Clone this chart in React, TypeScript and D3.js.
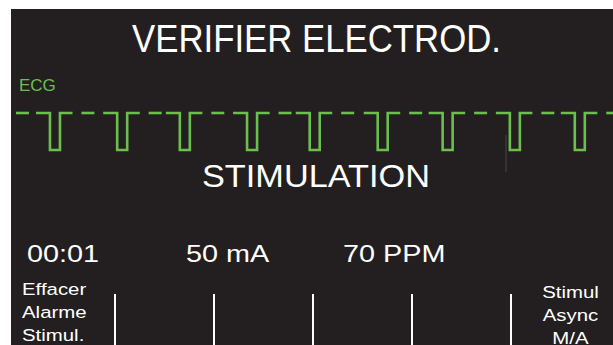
import React from "react";
import * as d3 from "d3";

// Textes affichés à l'écran
const headerMessage = "VERIFIER ELECTROD.";
const modeLabel = "STIMULATION";
const leadLabel = "ECG";
const readouts = ["00:01", "50 mA", "70 PPM"];
const softKeys = [
  ["Effacer", "Alarme", "Stimul."],
  [],
  [],
  [],
  [],
  ["Stimul", "Async", "M/A"],
];

// Instants des impulsions de stimulation (s)
const pulseTimes = [0, 0.88, 1.7, 2.58, 3.4, 4.29, 5.14, 6.02, 6.87];

const W = 613;
const H = 345;
const GREEN = "#6cbf4f";
const BG = "#231f20";
const FONT = "'Liberation Sans', Arial, sans-serif";

const App: React.FC = () => {
  // échelle temps -> pixels (76 px/s environ)
  const x = d3.scaleLinear().domain([-0.51, 7.37]).range([11, W]);
  // amplitude: 0 = ligne de base, -1 = fond de l'impulsion
  const y = d3.scaleLinear().domain([-1, 0]).range([150, 113]);

  const pulseW = 0.131; // largeur affichée de l'impulsion
  const armL = 0.183;
  const armR = 0.164;
  const dashA = 0.412;
  const dashB = 0.582;

  const line = d3.line<[number, number]>().x((d) => x(d[0])).y((d) => y(d[1]));

  const pulsePaths = pulseTimes.map((t) =>
    line([
      [t - armL, 0],
      [t, 0],
      [t, -1],
      [t + pulseW, -1],
      [t + pulseW, 0],
      [t + pulseW + armR, 0],
    ])
  );
  const dashStarts = [pulseTimes[0] - 0.857 + dashA, ...pulseTimes.map((t) => t + dashA)];

  const keys = d3.scaleBand<number>().domain(d3.range(softKeys.length)).range([16, 610]);
  const readoutX = [27, 186, 343];

  return (
    <svg
      width={W}
      height={H}
      style={{ position: "absolute", left: 0, top: 0, background: "#fff" }}
      fontFamily={FONT}
    >
      <defs>
        <clipPath id="screen">
          <rect x={11} y={9} width={W - 11} height={H - 9} />
        </clipPath>
      </defs>
      <rect x={11} y={9} width={W - 11} height={H - 9} fill={BG} />

      <g clipPath="url(#screen)">
        {/* message d'alarme */}
        <text
          x={316.5}
          y={52}
          fontSize={39}
          fill="#fff"
          textAnchor="middle"
          textLength={369}
          lengthAdjust="spacingAndGlyphs"
        >
          {headerMessage}
        </text>

        {/* dérivation */}
        <text x={19} y={91} fontSize={17} fill={GREEN}>
          {leadLabel}
        </text>

        {/* tracé ECG : ligne de base pointillée + impulsions */}
        <g fill="none" stroke={GREEN} strokeWidth={2.6} strokeLinejoin="miter">
          {pulsePaths.map((d, i) => (
            <path key={i} d={d || ""} />
          ))}
          {dashStarts.map((t, i) => (
            <line key={"d" + i} x1={x(t)} x2={x(t + (dashB - dashA))} y1={y(0)} y2={y(0)} />
          ))}
        </g>

        {/* trait parasite léger */}
        <line x1={506} x2={506} y1={135} y2={172} stroke="#4a4647" strokeWidth={1} />

        {/* mode */}
        <text
          x={316}
          y={187}
          fontSize={32}
          fill="#fff"
          textAnchor="middle"
          textLength={228}
          lengthAdjust="spacingAndGlyphs"
        >
          {modeLabel}
        </text>

        {/* valeurs */}
        {readouts.map((r, i) => (
          <text
            key={r}
            transform={`translate(${readoutX[i]},262) scale(1.2,1)`}
            fontSize={24}
            fill="#fff"
          >
            {r}
          </text>
        ))}

        {/* touches programmables */}
        {d3.range(1, softKeys.length).map((i) => (
          <line
            key={"k" + i}
            x1={keys(i)!}
            x2={keys(i)!}
            y1={294}
            y2={H}
            stroke="#fff"
            strokeWidth={2}
          />
        ))}
        {softKeys.map((lines, i) => {
          const first = i === 0;
          const kx = first ? (keys(i) as number) + 6 : (keys(i) as number) + keys.bandwidth() / 2 + 10;
          const base = first ? 295 : 298;
          return lines.map((l, j) => (
            <text
              key={i + "-" + j}
              transform={`translate(${kx},${base + j * 22.8}) scale(1.2,1)`}
              fontSize={17}
              fill="#fff"
              textAnchor={first ? "start" : "middle"}
            >
              {l}
            </text>
          ));
        })}
      </g>
    </svg>
  );
};

export default App;
